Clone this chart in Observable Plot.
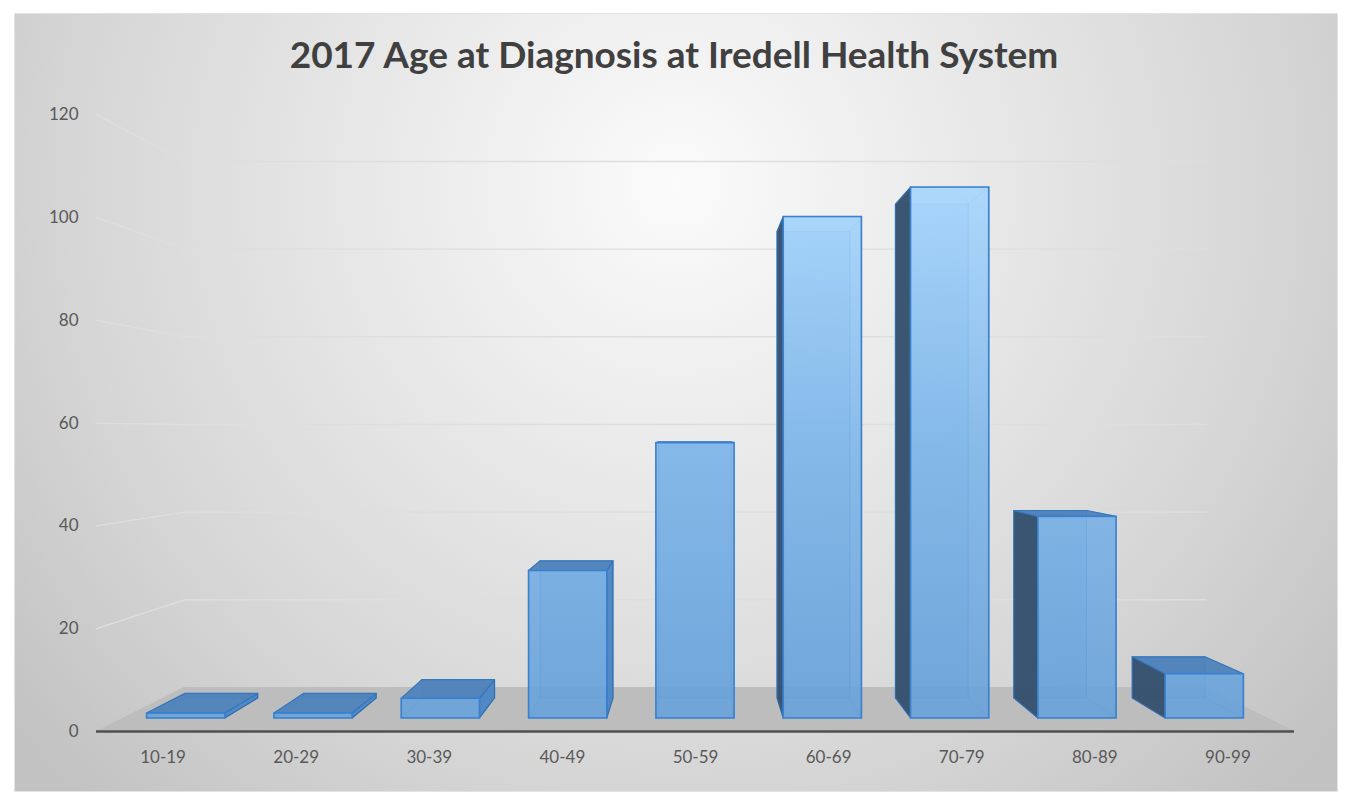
<!DOCTYPE html>
<html>
<head>
<meta charset="utf-8">
<script src="https://cdn.jsdelivr.net/npm/d3@7"></script>
<script src="https://cdn.jsdelivr.net/npm/@observablehq/plot@0.6"></script>
<style>
  html, body { margin: 0; padding: 0; background: #ffffff; }
  #wrap { position: relative; width: 1348px; height: 800px; overflow: hidden; font-family: Lato, "Open Sans", sans-serif; }
  #bg { position: absolute; left: 15px; top: 14px; width: 1322px; height: 777px;
        background: radial-gradient(65% 110% at 50% 22%, #fbfbfb 0%, #f3f3f3 15%, #e6e6e6 40%, #d6d6d6 70%, #c2c2c2 100%);
        box-shadow: 0 0 0 1px #e3e3e3; }
  #title { position: absolute; left: 0; top: 32px; width: 1348px; text-align: center;
           font-family: Lato, "Open Sans", sans-serif; font-weight: 700; font-size: 37px; color: #404040; line-height: 44px; }
  #chart { position: absolute; left: 0; top: 100px; }
</style>
</head>
<body>
<svg width="0" height="0" style="position:absolute">
  <defs>
    <linearGradient id="frontGrad" gradientUnits="userSpaceOnUse" x1="0" y1="80" x2="0" y2="620">
      <stop offset="0" stop-color="#a6d6fe"/>
      <stop offset="0.5" stop-color="#7cb5e9"/>
      <stop offset="1" stop-color="#66a0da"/>
    </linearGradient>
  </defs>
</svg>
<div id="wrap">
  <div id="bg"></div>
  <div id="title">2017 Age at Diagnosis at Iredell Health System</div>
  <div id="chart"></div>
</div>
<script>
// ---- data ----
const categories = ["10-19", "20-29", "30-39", "40-49", "50-59", "60-69", "70-79", "80-89", "90-99"];
const counts = [1, 1, 4, 30, 56, 102, 108, 41, 9];
const yTicks = [0, 20, 40, 60, 80, 100, 120];

// ---- simple perspective projection (category index, value, depth) -> front-plane data units ----
const VPX = 4, VPY = 58.2, A = 0.1725;      // vanishing point and depth foreshortening
const HW = 0.307, ZF = 0.264, ZB = 0.72;     // bar half-width (band units), bar front/back depth
const proj = (i, v, z) => { const s = 1 / (1 + A * z); return [VPX + s * (i - VPX), VPY + s * (v - VPY)]; };

const bars = categories.map((c, i) => {
  const v = counts[i];
  const [fl, fb] = proj(i - HW, 0, ZF), [fr, ft] = proj(i + HW, v, ZF);
  const [bl, bb] = proj(i - HW, 0, ZB), [br, bt] = proj(i + HW, v, ZB);
  return {c, i, v, fl, fr, fb, ft, bl, br, bb, bt};
});

// floor (depth 0..1 at value 0)
const [f0l, f0y] = proj(-0.5, 0, 0), [f0r] = proj(8.5, 0, 0);
const [f1l, f1y] = proj(-0.5, 0, 1), [f1r] = proj(8.5, 0, 1);
const floor = [{y: f0y, x1: f0l, x2: f0r}, {y: f1y, x1: f1l, x2: f1r}];

// gridlines: side wall + back wall
const grid = yTicks.filter(t => t > 0).flatMap(t => {
  const p0 = proj(-0.5, t, 0), p1 = proj(-0.5, t, 1), p2 = proj(8.5, t, 1);
  return [p0, p1, p2].map(p => ({t, x: p[0], y: p[1]}));
});

// side faces
const sideL = bars.flatMap(b => [{i: b.i, out: b.i > VPX, x: b.fl, y1: b.fb, y2: b.ft}, {i: b.i, out: b.i > VPX, x: b.bl, y1: b.bb, y2: b.bt}]);
const sideR = bars.flatMap(b => [{i: b.i, out: b.i < VPX, x: b.fr, y1: b.fb, y2: b.ft}, {i: b.i, out: b.i < VPX, x: b.br, y1: b.bb, y2: b.bt}]);
const tops = bars.flatMap(b => [{i: b.i, vis: b.v < VPY, y: b.ft, x1: b.fl, x2: b.fr}, {i: b.i, vis: b.v < VPY, y: b.bt, x1: b.bl, x2: b.br}]);

const edge = "#3f86d0";

const chart = Plot.plot({
  width: 1348,
  height: 680,
  marginLeft: 96, marginRight: 54, marginTop: 14.2, marginBottom: 49,
  x: {domain: [-0.5, 8.5], range: [96, 1294], axis: null},
  y: {domain: [0, 120], range: [631, 631 - 5.14 * 120], axis: null},
  style: {background: "transparent", fontFamily: "Lato, 'Open Sans', sans-serif", fontSize: "17px", color: "#595959", overflow: "visible"},
  marks: [
    Plot.areaX(floor, {y: "y", x1: "x1", x2: "x2", fill: "#bdbdbd"}),
    Plot.line(grid, {x: "x", y: "y", z: "t", stroke: "#dedede", strokeWidth: 1.4}),
    // back faces
    Plot.rect(bars, {x1: "bl", x2: "br", y1: "bb", y2: "bt", fill: "#5b9bd5", fillOpacity: 0.3, stroke: edge, strokeWidth: 1, strokeOpacity: 0.6}),
    // hidden (inner) faces as faint outlines
    Plot.areaY(sideL.filter(d => !d.out), {x: "x", y1: "y1", y2: "y2", z: "i", fill: "none", stroke: edge, strokeOpacity: 0.5, strokeWidth: 1}),
    Plot.areaY(sideR.filter(d => !d.out), {x: "x", y1: "y1", y2: "y2", z: "i", fill: "none", stroke: edge, strokeOpacity: 0.5, strokeWidth: 1}),
    // outward side faces
    Plot.areaY(sideL.filter(d => d.out), {x: "x", y1: "y1", y2: "y2", z: "i", fill: "#344f6b", fillOpacity: 0.95, stroke: "#2f6db0", strokeWidth: 1.2}),
    Plot.areaY(sideR.filter(d => d.out), {x: "x", y1: "y1", y2: "y2", z: "i", fill: "#4a86c5", fillOpacity: 0.95, stroke: "#2f6db0", strokeWidth: 1.2}),
    // visible top faces
    Plot.areaX(tops.filter(d => d.vis), {y: "y", x1: "x1", x2: "x2", z: "i", fill: "#4e82bb", fillOpacity: 0.95, stroke: "#3777bd", strokeWidth: 1.2}),
    // front faces
    Plot.rect(bars, {x1: "fl", x2: "fr", y1: "fb", y2: "ft", fill: "url(#frontGrad)", fillOpacity: 0.88, stroke: "#3a82cf", strokeWidth: 1.6}),
    // category axis line
    Plot.ruleY([0], {x1: -0.5, x2: 8.5, stroke: "#505050", strokeWidth: 2.5}),
    Plot.axisY(yTicks, {anchor: "left", tickSize: 0, tickPadding: 18, label: null, fill: "#595959"}),
    Plot.axisX(d3.range(categories.length), {anchor: "bottom", tickSize: 0, tickPadding: 19, label: null, tickFormat: i => categories[i], fill: "#595959"})
  ]
});
document.getElementById("chart").appendChild(chart);
</script>
</body>
</html>
